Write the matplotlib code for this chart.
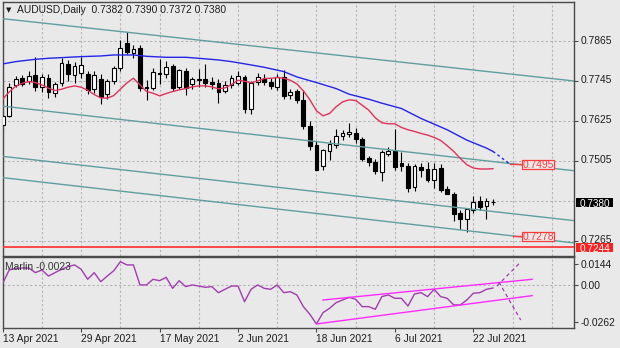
"""
AUDUSD daily candles with two moving averages, a falling channel and
the Marlin oscillator with its rising wedge underneath.
"""
import numpy as np
import pandas as pd
import matplotlib
matplotlib.use('Agg')
import matplotlib.pyplot as plt
from matplotlib.patches import Rectangle
from matplotlib.transforms import blended_transform_factory, offset_copy

plt.rcParams['font.family'] = ['Liberation Sans', 'DejaVu Sans']

SYMBOL = "AUDUSD,Daily"
DATES = pd.bdate_range("2021-04-13", periods=76)

OPEN = [0.7612, 0.7640, 0.7732, 0.7753, 0.7744, 0.7762, 0.7728, 0.7755, 0.7710, 0.7738,
        0.7797, 0.7764, 0.7768, 0.7766, 0.7720, 0.7752, 0.7705, 0.7745, 0.7783, 0.7860,
        0.7830, 0.7843, 0.7728, 0.7724, 0.7770, 0.7766, 0.7790, 0.7728, 0.7776, 0.7735,
        0.7748, 0.7750, 0.7742, 0.7740, 0.7714, 0.7732, 0.7738, 0.7757, 0.7660, 0.7742,
        0.7752, 0.7743, 0.7728, 0.7756, 0.7703, 0.7716, 0.7688, 0.7610, 0.7553, 0.7488,
        0.7535, 0.7553, 0.7578, 0.7584, 0.7588, 0.7570, 0.7512, 0.7502, 0.7470, 0.7525,
        0.7535, 0.7498, 0.7490, 0.7425, 0.7486, 0.7480, 0.7447, 0.7482, 0.7420, 0.7405,
        0.7348, 0.7330, 0.7358, 0.7383, 0.7368, 0.7382]
HIGH = [0.7652, 0.7738, 0.7761, 0.7762, 0.7775, 0.7816, 0.7765, 0.7765, 0.7742, 0.7815,
        0.7808, 0.7803, 0.7818, 0.7775, 0.7775, 0.7765, 0.7750, 0.7790, 0.7868, 0.7891,
        0.7852, 0.7852, 0.7748, 0.7785, 0.7812, 0.7805, 0.7795, 0.7781, 0.7785, 0.7758,
        0.7782, 0.7796, 0.7758, 0.7752, 0.7745, 0.7763, 0.7776, 0.7762, 0.7745, 0.7768,
        0.7766, 0.7755, 0.7765, 0.7778, 0.7720, 0.7722, 0.7718, 0.7625, 0.7565, 0.7540,
        0.7568, 0.7601, 0.7596, 0.7617, 0.7604, 0.7575, 0.7520, 0.7510, 0.7538, 0.7545,
        0.7600, 0.7532, 0.7498, 0.7495, 0.7498, 0.7502, 0.7498, 0.7496, 0.7430, 0.7410,
        0.7356, 0.7363, 0.7400, 0.7398, 0.7394, 0.7390]
LOW = [0.7590, 0.7636, 0.7728, 0.7730, 0.7735, 0.7715, 0.7713, 0.7695, 0.7696, 0.7730,
       0.7745, 0.7740, 0.7755, 0.7707, 0.7710, 0.7675, 0.7690, 0.7735, 0.7775, 0.7825,
       0.7815, 0.7715, 0.7688, 0.7718, 0.7735, 0.7755, 0.7715, 0.7722, 0.7702, 0.7720,
       0.7728, 0.7728, 0.7722, 0.7680, 0.7708, 0.7725, 0.7733, 0.7648, 0.7645, 0.7732,
       0.7732, 0.7720, 0.7718, 0.7690, 0.7690, 0.7680, 0.7600, 0.7538, 0.7477, 0.7478,
       0.7508, 0.7544, 0.7568, 0.7576, 0.7559, 0.7505, 0.7488, 0.7465, 0.7443, 0.7518,
       0.7478, 0.7475, 0.7411, 0.7415, 0.7455, 0.7440, 0.7423, 0.7412, 0.7404, 0.7325,
       0.7300, 0.7290, 0.7348, 0.7358, 0.7330, 0.7372]
CLOSE = [0.7640, 0.7727, 0.7752, 0.7737, 0.7760, 0.7726, 0.7757, 0.7713, 0.7737, 0.7800,
         0.7766, 0.7789, 0.7793, 0.7718, 0.7763, 0.7698, 0.7746, 0.7783, 0.7843, 0.7832,
         0.7840, 0.7723, 0.7724, 0.7773, 0.7766, 0.7788, 0.7723, 0.7777, 0.7723, 0.7752,
         0.7752, 0.7738, 0.7736, 0.7712, 0.7733, 0.7754, 0.7760, 0.7660, 0.7738, 0.7757,
         0.7742, 0.7729, 0.7758, 0.7700, 0.7713, 0.7689, 0.7608, 0.7550, 0.7478, 0.7537,
         0.7556, 0.7578, 0.7588, 0.7592, 0.7570, 0.7511, 0.7500, 0.7474, 0.7530, 0.7535,
         0.7485, 0.7488, 0.7423, 0.7488, 0.7477, 0.7447, 0.7481, 0.7418, 0.7406, 0.7345,
         0.7330, 0.7360, 0.7380, 0.7366, 0.7383, 0.7380]

# fast MA (red), one value per bar
MA_FAST = [0.7690, 0.7712, 0.7729, 0.7738, 0.7743, 0.7740, 0.7733, 0.7723, 0.7716, 0.7720,
           0.7726, 0.7730, 0.7726, 0.7717, 0.7704, 0.7694, 0.7693, 0.7701, 0.7720, 0.7739,
           0.7753, 0.7733, 0.7713, 0.7708, 0.7700, 0.7707, 0.7713, 0.7718, 0.7722, 0.7727,
           0.7730, 0.7730, 0.7727, 0.7721, 0.7724, 0.7734, 0.7747, 0.7744, 0.7739, 0.7745,
           0.7752, 0.7753, 0.7755, 0.7753, 0.7747, 0.7736, 0.7715, 0.7688, 0.7655, 0.7640,
           0.7647, 0.7667, 0.7682, 0.7688, 0.7686, 0.7672, 0.7657, 0.7634, 0.7619, 0.7616,
           0.7616, 0.7605, 0.7598, 0.7593, 0.7587, 0.7582, 0.7575, 0.7566, 0.7550, 0.7533,
           0.7512, 0.7493, 0.7483, 0.7480, 0.7480, 0.7481]

# slow MA (blue), sampled bars
MA_SLOW_IDX = [0, 2, 5, 7, 10, 12, 15, 17, 20, 22, 25, 28, 30, 33, 35,
               38, 40, 43, 45, 48, 51, 53, 56, 58, 61, 64, 68, 71, 74, 75]
MA_SLOW = [0.7796, 0.7803, 0.7810, 0.7813, 0.7816, 0.7818, 0.7820, 0.7823, 0.7823, 0.7819,
           0.7816, 0.7816, 0.7813, 0.7808, 0.7803, 0.7793, 0.7786, 0.7773, 0.7757, 0.7740,
           0.7722, 0.7705, 0.7690, 0.7678, 0.7662, 0.7632, 0.7598, 0.7567, 0.7543, 0.7533]
MA_SLOW_PROJ_IDX = [75, 77.6]
MA_SLOW_PROJ = [0.7533, 0.7495]

# channel lines, anchored at both chart edges
CHANNEL_IDX = [-0.41, 87.3]
CH_TOP = [0.7933, 0.7745]
CH_UPPER = [0.7670, 0.7475]
CH_LOWER = [0.7519, 0.7325]
CH_BOTTOM = [0.7455, 0.7258]

SUPPORT = 0.7244
TARGET_UP = 0.7495
TARGET_UP_IDX = 77.6
TARGET_DN = 0.7278
TARGET_DN_IDX = 78.1

MARLIN = [0.0011, 0.0105, 0.0117, 0.0119, 0.0119, 0.0086, 0.0105, 0.0062, 0.0086, 0.0110,
          0.0129, 0.0141, 0.0110, 0.0039, 0.0086, 0.0022, 0.0062, 0.0100, 0.0164, 0.0141,
          0.0141, -0.0001, -0.0001, 0.0039, 0.0029, 0.0053, -0.0025, 0.0029, -0.0013, -0.0001,
          -0.0009, -0.0018, -0.0013, -0.0056, -0.0032, -0.0009, -0.0009, -0.0120, -0.0032, -0.0001,
          -0.0025, -0.0032, -0.0001, -0.0056, -0.0049, -0.0072, -0.0155, -0.0210, -0.0278, -0.0198,
          -0.0167, -0.0127, -0.0108, -0.0089, -0.0103, -0.0155, -0.0155, -0.0174, -0.0084, -0.0072,
          -0.0096, -0.0096, -0.0151, -0.0065, -0.0056, -0.0084, -0.0032, -0.0084, -0.0096, -0.0143,
          -0.0143, -0.0108, -0.0060, -0.0056, -0.0032, -0.0023]
WEDGE_UP_IDX = [49, 81]
WEDGE_UP = [-0.0108, 0.0039]
WEDGE_DN_IDX = [48, 81]
WEDGE_DN = [-0.0278, -0.0077]
BREAK_UP_IDX = [75.6, 79.15]
BREAK_UP = [-0.0009, 0.0157]
BREAK_DN_IDX = [75.9, 79.25]
BREAK_DN = [0.0020, -0.0250]

PRICE_TICKS = [0.7865, 0.7745, 0.7625, 0.7505, 0.7265]
PRICE_GRID = [0.7385]
OSC_TICKS = [0.0144, 0.0, -0.0262]
OSC_LABELS = ["0.0144", "0.00", "-0.0262"]

BG = '#e9e9e9'
GRID = '#b5b5b5'
FRAME = '#4a4a4a'
TXT = '#1e1e1e'
CHANNEL = '#5f9ea0'
RED_MA = '#e0325a'
BLUE_MA = '#2424e8'
LEVEL = '#ff3b3b'
OSC = '#a23cb0'
WEDGE = '#ff2aff'
FS = 7.4


def style_axes(ax):
    ax.set_facecolor(BG)
    for s in ax.spines.values():
        s.set_color(FRAME)
        s.set_linewidth(1.0)
    ax.yaxis.tick_right()
    ax.tick_params(axis='y', which='major', length=3, width=0.8,
                   color=FRAME, labelsize=FS, labelcolor=TXT, pad=2)
    ax.tick_params(axis='y', which='minor', length=0)
    ax.set_xticks(np.arange(0, 88, 6), minor=True)
    ax.tick_params(axis='x', which='minor', length=0)
    ax.grid(which='minor', axis='x', color=GRID, lw=0.8,
            linestyle=(0, (2, 2)))
    ax.set_axisbelow(True)


def axis_tag(ax, value, text, face):
    """Filled price box hanging off the right axis."""
    bb = ax.get_window_extent()
    y0, y1 = ax.get_ylim()
    per_px = (y1 - y0) / bb.height
    trans = blended_transform_factory(ax.transAxes, ax.transData)
    x0 = 1 + 2.5 / bb.width
    ax.add_patch(Rectangle((x0, value - 4.3 * per_px), 37 / bb.width,
                           8.6 * per_px, transform=trans, facecolor=face,
                           edgecolor='none', clip_on=False, zorder=6))
    ax.text(x0 + 18.5 / bb.width, value - 0.3 * per_px, text,
            transform=trans, color='white', fontsize=FS - 0.2, ha='center',
            va='center_baseline', clip_on=False, zorder=7)


def target_box(ax, idx, value):
    """Red framed price note at the end of a projection."""
    bb = ax.get_window_extent()
    y0, y1 = ax.get_ylim()
    per_px = (y1 - y0) / bb.height
    box_x = 79.4
    ax.plot([idx, box_x], [value, value], color=LEVEL, lw=1.0, zorder=5)
    ax.add_patch(Rectangle((box_x, value - 4.5 * per_px), 5.0, 9 * per_px,
                           facecolor=BG, edgecolor=LEVEL, lw=0.9, zorder=6))
    ax.text(box_x + 2.5, value - 0.5 * per_px, f"{value:.4f}", color=LEVEL,
            fontsize=FS, ha='center', va='center', zorder=7)


def draw_price(ax):
    x = np.arange(len(OPEN))
    o, h, l, c = (np.asarray(v) for v in (OPEN, HIGH, LOW, CLOSE))
    up = c >= o
    body = np.maximum(np.abs(c - o), 0.00005)
    bottom = np.minimum(o, c)

    ax.vlines(x, l, h, color='black', lw=0.8, zorder=2)
    ax.bar(x[up], body[up], bottom=bottom[up], width=0.58, color='white',
           edgecolor='black', lw=0.8, zorder=3)
    ax.bar(x[~up], body[~up], bottom=bottom[~up], width=0.58, color='black',
           edgecolor='black', lw=0.8, zorder=3)

    for line in (CH_TOP, CH_UPPER, CH_LOWER, CH_BOTTOM):
        ax.plot(CHANNEL_IDX, line, color=CHANNEL, lw=1.0, zorder=4)

    ax.plot(x, MA_FAST, color=RED_MA, lw=1.0, zorder=4)
    ax.plot(MA_SLOW_IDX, MA_SLOW, color=BLUE_MA, lw=1.0, zorder=4)
    ax.plot(MA_SLOW_PROJ_IDX, MA_SLOW_PROJ, color=BLUE_MA, lw=1.0,
            linestyle=(0, (2, 2)), zorder=4)

    ax.axhline(SUPPORT, color=LEVEL, lw=1.3, zorder=4)

    ax.set_xlim(-0.03, 87.4)
    ax.set_ylim(0.72199, 0.79823)
    ax.set_yticks(PRICE_TICKS)
    ax.set_yticklabels([f"{v:.4f}" for v in PRICE_TICKS])
    # labels sit a touch above their grid line
    for lbl in ax.get_yticklabels():
        lbl.set_transform(offset_copy(lbl.get_transform(), fig=ax.figure,
                                      x=0, y=1.5, units='dots'))
    ax.set_yticks(PRICE_GRID, minor=True)
    ax.grid(which='both', axis='y', color=GRID, lw=0.8, linestyle=(0, (2, 2)))
    ax.set_xticks([])

    target_box(ax, TARGET_UP_IDX, TARGET_UP)
    target_box(ax, TARGET_DN_IDX, TARGET_DN)
    axis_tag(ax, CLOSE[-1], f"{CLOSE[-1]:.4f}", 'black')
    axis_tag(ax, SUPPORT, f"{SUPPORT:.4f}", '#ff2020')

    ax.text(0.0102, 0.968, "\u25bc", transform=ax.transAxes, fontsize=5,
            family='DejaVu Sans', color=TXT, ha='center', va='center')
    ax.text(0.0254, 0.968,
            f"{SYMBOL}  {OPEN[-1]:.4f} {HIGH[-1]:.4f} {LOW[-1]:.4f} {CLOSE[-1]:.4f}",
            transform=ax.transAxes, fontsize=FS, color=TXT,
            ha='left', va='center')


def draw_marlin(ax):
    x = np.arange(len(MARLIN))
    ax.axhline(0.0, color=GRID, lw=0.8, linestyle=(0, (2, 2)), zorder=1)
    ax.plot(x, MARLIN, color=OSC, lw=1.0, zorder=3)
    ax.plot(WEDGE_UP_IDX, WEDGE_UP, color=WEDGE, lw=1.0, zorder=4)
    ax.plot(WEDGE_DN_IDX, WEDGE_DN, color=WEDGE, lw=1.0, zorder=4)
    ax.plot(BREAK_UP_IDX, BREAK_UP, color=OSC, lw=0.9,
            linestyle=(0, (3, 2.5)), zorder=4)
    ax.plot(BREAK_DN_IDX, BREAK_DN, color=OSC, lw=0.9,
            linestyle=(0, (3, 2.5)), zorder=4)

    ax.set_xlim(-0.03, 87.4)
    ax.set_ylim(-0.03032, 0.01972)
    ax.set_yticks(OSC_TICKS)
    ax.set_yticklabels(OSC_LABELS)

    ticks = list(range(0, len(DATES), 12))
    ax.set_xticks(ticks)
    ax.set_xticklabels([DATES[i].strftime('%-d %b %Y') for i in ticks])
    for lbl in ax.get_xticklabels():
        lbl.set_ha('left')
    ax.tick_params(axis='x', which='major', length=3, width=0.8,
                   color=FRAME, labelsize=FS, labelcolor=TXT, pad=1.5)

    ax.text(0.0044, 0.862, f"Marlin {MARLIN[-1]:.4f}", transform=ax.transAxes,
            fontsize=FS, color='#333333', ha='left', va='center')


def main():
    fig = plt.figure(figsize=(6.2, 3.48), dpi=100, facecolor=BG)
    ax_p = fig.add_axes([2.5 / 620, 1 - 255.5 / 348, 571.5 / 620, 253.5 / 348])
    ax_m = fig.add_axes([2.5 / 620, 1 - 327.5 / 348, 571.5 / 620, 70.5 / 348])
    style_axes(ax_p)
    style_axes(ax_m)
    draw_price(ax_p)
    draw_marlin(ax_m)
    fig.savefig("out.png", dpi=100, facecolor=BG)
    plt.close(fig)


if __name__ == "__main__":
    main()
